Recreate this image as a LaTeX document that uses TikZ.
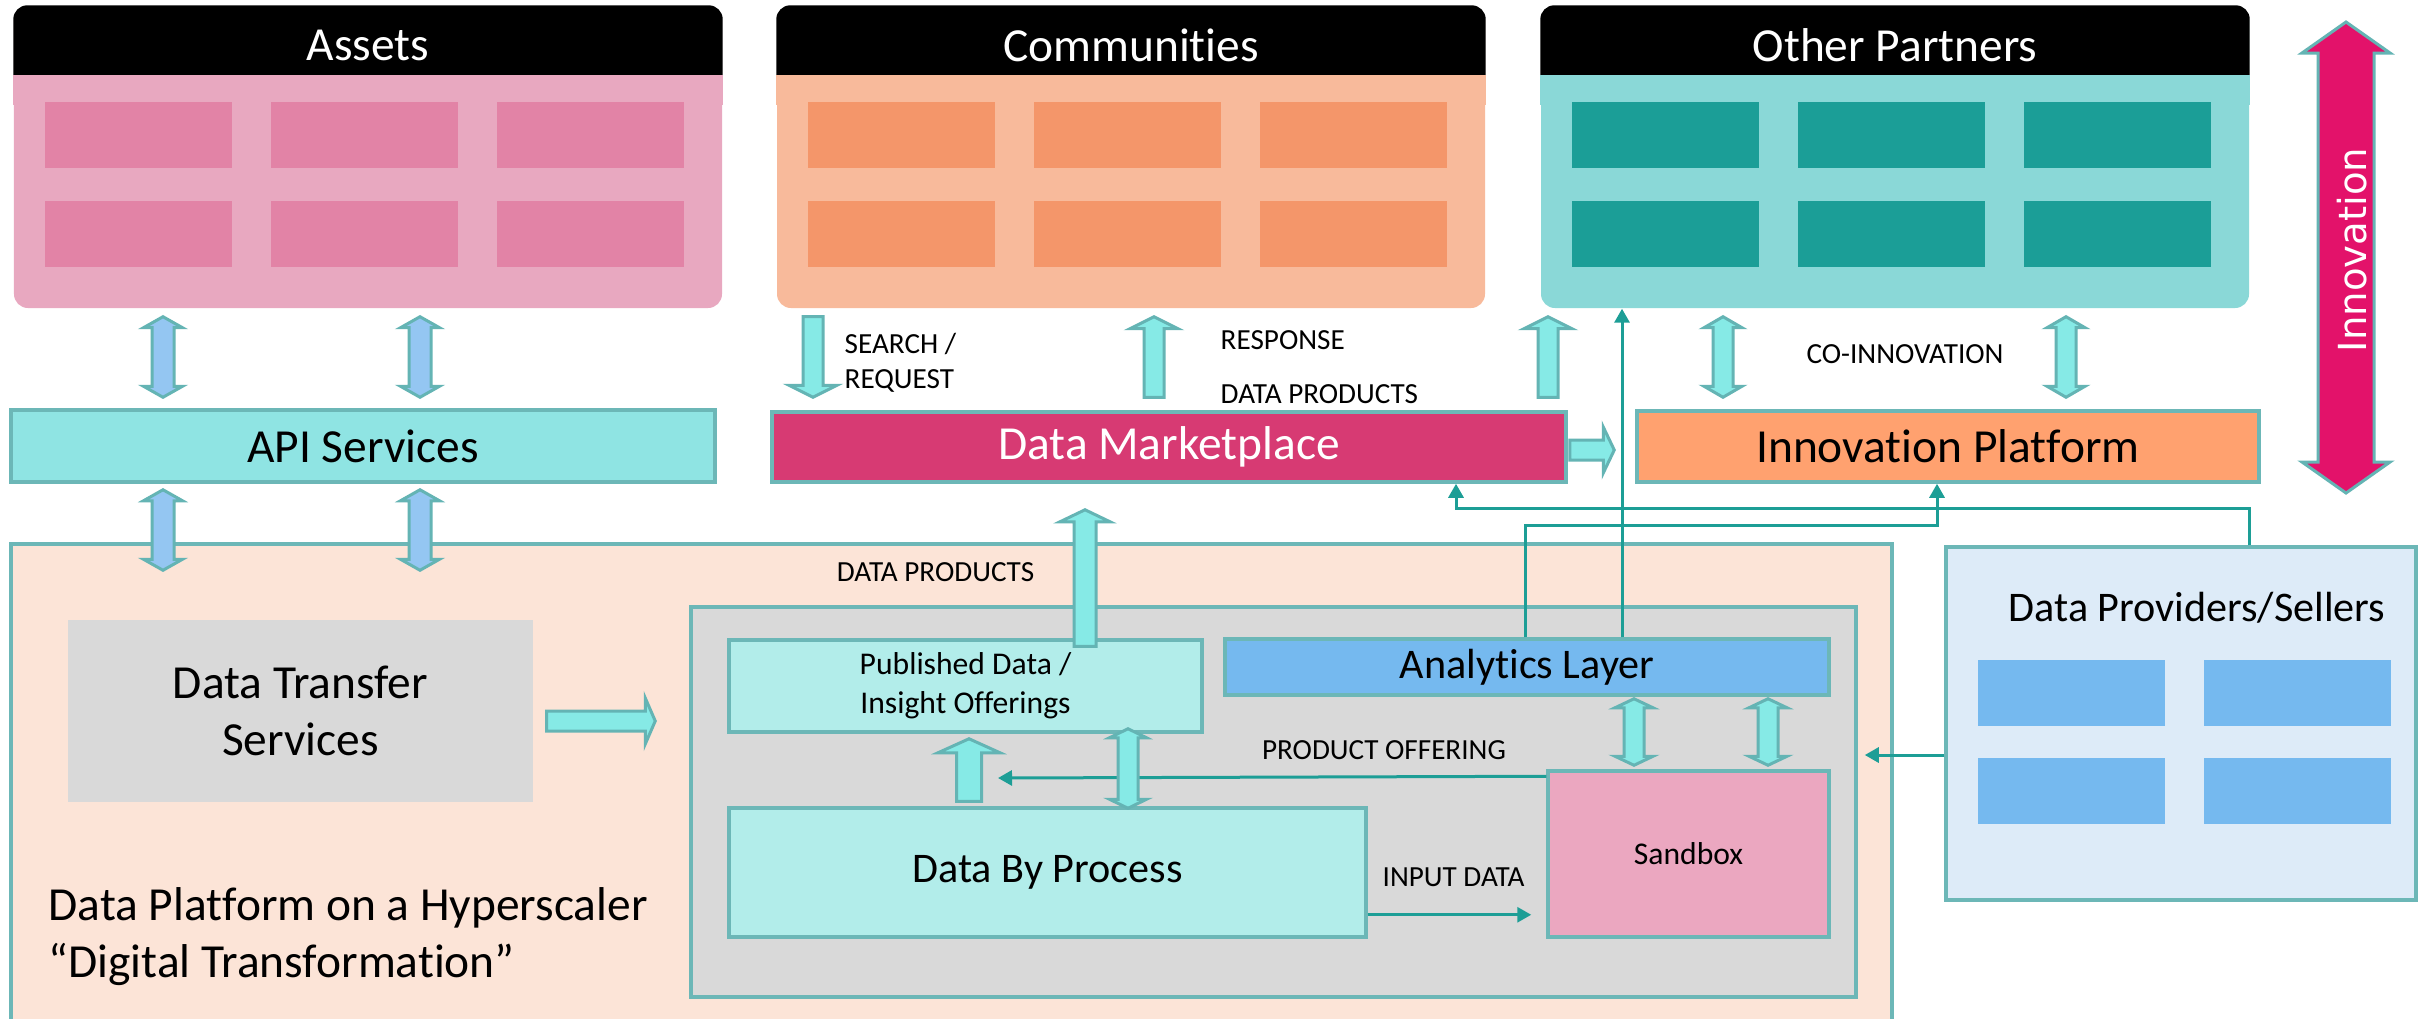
\documentclass[tikz,border=0pt]{standalone}
\usepackage{fontspec}
\setmainfont{Carlito}[Ligatures=NoCommon]
\newfontfamily\innofont{DejaVu Sans}
\usetikzlibrary{calc,arrows.meta}

\definecolor{assetbody}{HTML}{E8A8C0}
\definecolor{assetin}{HTML}{E283A6}
\definecolor{commbody}{HTML}{F8BA9B}
\definecolor{commin}{HTML}{F4966A}
\definecolor{partbody}{HTML}{8AD8D7}
\definecolor{partin}{HTML}{1B9E97}
\definecolor{apifill}{HTML}{8FE4E3}
\definecolor{dmfill}{HTML}{D73A73}
\definecolor{ipfill}{HTML}{FFA16F}
\definecolor{platfill}{HTML}{FCE4D7}
\definecolor{grayfill}{HTML}{D9D9D9}
\definecolor{pubfill}{HTML}{B2EDEA}
\definecolor{anfill}{HTML}{75B9EF}
\definecolor{sbfill}{HTML}{EBA7C0}
\definecolor{provfill}{HTML}{DDEBF8}
\definecolor{provin}{HTML}{75B9EF}
\definecolor{blkfill}{HTML}{86EAE6}
\definecolor{apiarrow}{HTML}{94C6F2}
\definecolor{blkline}{HTML}{64B4B4}
\definecolor{boxline}{HTML}{6CB7B7}
\definecolor{linkcol}{HTML}{1D9E96}
\definecolor{innofill}{HTML}{E3126A}

% block arrow: [style]{tail}{tip}{shaft half width}{head half width}{head length}
\newcommand{\blkarrow}[6][]{%
  \coordinate (bt) at (#2);
  \coordinate (bh) at (#3);
  \coordinate (bb) at ($(bh)!#6!(bt)$);
  \draw[blk,#1] ($(bt)!#4!90:(bh)$) -- ($(bb)!#4!90:(bh)$) -- ($(bb)!#5!90:(bh)$) -- (bh)
    -- ($(bb)!#5!-90:(bh)$) -- ($(bb)!#4!-90:(bh)$) -- ($(bt)!#4!-90:(bh)$) -- cycle;
}
% double block arrow, same arguments
\newcommand{\dblarrow}[6][]{%
  \coordinate (bt) at (#2);
  \coordinate (bh) at (#3);
  \coordinate (bb) at ($(bh)!#6!(bt)$);
  \coordinate (ba) at ($(bt)!#6!(bh)$);
  \draw[blk,#1] (bt) -- ($(ba)!#5!90:(bh)$) -- ($(ba)!#4!90:(bh)$) -- ($(bb)!#4!90:(bh)$)
    -- ($(bb)!#5!90:(bh)$) -- (bh) -- ($(bb)!#5!-90:(bh)$) -- ($(bb)!#4!-90:(bh)$)
    -- ($(ba)!#4!-90:(bh)$) -- ($(ba)!#5!-90:(bh)$) -- cycle;
}

\begin{document}
\begin{tikzpicture}[x=1cm,y=-1cm,
  box/.style={draw=boxline, line width=0.035cm, inner sep=0pt},
  topbox/.style={rounded corners=0.14cm, minimum width=7.08cm, minimum height=3.02cm, inner sep=0pt},
  headtxt/.style={text=white, font=\fontsize{13.5}{16.2}\selectfont, inner sep=0pt},
  bigtxt/.style={font=\fontsize{13.5}{16.2}\selectfont},
  midtxt/.style={font=\fontsize{12}{14.4}\selectfont},
  smalltxt/.style={font=\fontsize{9}{11.1}\selectfont},
  lbltxt/.style={font=\fontsize{8.3}{10}\selectfont, inner sep=0pt},
  blk/.style={draw=blkline, line width=0.03cm, fill=blkfill},
  link/.style={draw=linkcol, line width=0.03cm, -{Triangle[width=0.15cm,length=0.14cm]}}]
\useasboundingbox (0,0) rectangle (24.28,10.18);
\fill[white] (0,0) rectangle (24.28,10.18);

% top groups
\foreach \nm/\bx/\cbody/\cin/\ttl in {assets/3.68/assetbody/assetin/Assets,
    comm/11.31/commbody/commin/Communities, partners/18.95/partbody/partin/Other Partners} {
  \node[topbox, fill=\cbody] (\nm) at (\bx,1.57) {};
  \fill[black, rounded corners=0.14cm] (\nm.north west) rectangle ($(\nm.north east)+(0,0.9)$);
  \fill[\cbody] ($(\nm.north west)+(0,0.70)$) rectangle ($(\nm.north east)+(0,1.0)$);
  \node[headtxt] (\nm-t) at ($(\nm.north)+(0,0.40)$) {\ttl};
  \foreach \i in {0,1,2}
    \foreach \j in {0,1}
      \fill[\cin] ($(\nm.north west)+(0.32+2.26*\i,0.97+0.99*\j)$) rectangle ++(1.87,0.66);
}

% service row
\node[box, fill=apifill, minimum width=7.04cm, minimum height=0.72cm, bigtxt] (api) at (3.63,4.46) {API Services};
\node[box, fill=dmfill, text=white, minimum width=7.94cm, minimum height=0.70cm, bigtxt] (dm) at (11.69,4.47) {Data Marketplace};
\node[box, fill=ipfill, minimum width=6.22cm, minimum height=0.71cm, bigtxt] (ip) at (19.48,4.465) {Innovation Platform};

% platform
\node[box, fill=platfill, minimum width=18.81cm, minimum height=4.86cm] (plat) at (9.515,7.87) {};
\node[box, fill=grayfill, minimum width=11.65cm, minimum height=3.90cm] (core) at (12.735,8.02) {};
\node[fill=grayfill, minimum width=4.65cm, minimum height=1.82cm, bigtxt, align=center] (dts) at (3.005,7.11) {Data Transfer\\Services};
\node[box, fill=pubfill, minimum width=4.73cm, minimum height=0.92cm, smalltxt, align=center] (pub) at (9.655,6.86) {Published Data /\\Insight Offerings};
\node[box, fill=anfill, minimum width=6.04cm, minimum height=0.56cm, midtxt] (an) at (15.27,6.67) {Analytics Layer};
\node[box, fill=pubfill, minimum width=6.37cm, minimum height=1.29cm, midtxt] (dbp) at (10.475,8.725) {Data By Process};
\node[box, fill=sbfill, minimum width=2.81cm, minimum height=1.66cm, smalltxt] (sb) at (16.885,8.54) {Sandbox};
\node[bigtxt, align=left, anchor=west, inner sep=0pt] (plat-t) at (0.48,9.37) {Data Platform on a Hyperscaler\\“Digital Transformation”};

% providers
\node[box, fill=provfill, minimum width=4.70cm, minimum height=3.53cm] (prov) at (21.81,7.235) {};
\node[midtxt] (prov-t) at (21.97,6.08) {Data Providers/Sellers};
\foreach \i in {0,1}
  \foreach \j in {0,1}
    \fill[provin] ($(prov.north west)+(0.34+2.26*\i,1.15+0.98*\j)$) rectangle ++(1.87,0.66);

% labels
\node[lbltxt, anchor=west, align=left] (search) at (8.44,3.625) {SEARCH /\\REQUEST};
\node[lbltxt, anchor=west] (resp) at (12.20,3.40) {RESPONSE};
\node[lbltxt, anchor=west] (dprod) at (12.20,3.94) {DATA PRODUCTS};
\node[lbltxt] (coinno) at (19.05,3.545) {CO-INNOVATION};
\node[lbltxt] (dprod2) at (9.355,5.725) {DATA PRODUCTS};
\node[lbltxt] (offer-t) at (13.84,7.50) {PRODUCT OFFERING};
\node[lbltxt] (input-t) at (14.535,8.775) {INPUT DATA};

% thin links
\coordinate (offer) at (9.98,7.78);
\draw[link] ($(prov.north)+(0.68,0)$) -- ++(0,-0.37) -| ($(dm.south)+(2.87,0)$);
\draw[link] ($(an.north)+(-0.02,0)$) -- ++(0,-1.12) -| ($(ip.south)+(-0.11,0)$);
\draw[link] ($(an.north)+(0.95,0)$) -- ($(an.north |- partners.south)+(0.95,0)$);
\draw[link] ($(sb.north west)+(0,0.07)$) -- (offer);
\draw[link] ($(dbp.south east)+(0,-0.24)$) -- ($(dbp.south east -| sb.west)+(-0.15,-0.24)$);
\draw[link] ($(prov.west)+(0,0.315)$) -- ($(prov.west -| core.east)+(0.07,0.315)$);

% block arrows
\foreach \dx in {-2.05,0.52} {
  \dblarrow[fill=apiarrow]{$(assets.south)+(\dx,0.08)$}{$(assets.south |- api.north)+(\dx,-0.11)$}{0.11cm}{0.195cm}{0.11cm}
  \dblarrow[fill=apiarrow]{$(assets.south |- api.south)+(\dx,0.06)$}{$(assets.south |- plat.north)+(\dx,0.28)$}{0.11cm}{0.195cm}{0.11cm}
}
\blkarrow{$(comm.south)+(-3.18,0.08)$}{$(comm.south |- dm.north)+(-3.18,-0.13)$}{0.10cm}{0.24cm}{0.12cm}
\blkarrow{$(comm.south |- dm.north)+(0.23,-0.13)$}{$(comm.south)+(0.23,0.08)$}{0.10cm}{0.24cm}{0.12cm}
\blkarrow{$(partners.south |- dm.north)+(-3.47,-0.13)$}{$(partners.south)+(-3.47,0.08)$}{0.10cm}{0.24cm}{0.12cm}
\foreach \dx in {-1.72,1.71} {
  \dblarrow{$(partners.south)+(\dx,0.08)$}{$(partners.south |- ip.north)+(\dx,-0.12)$}{0.10cm}{0.19cm}{0.11cm}
}
\blkarrow{$(dm.east)+(0.02,0.03)$}{$(dm.east -| ip.west)+(-0.21,0.03)$}{0.10cm}{0.23cm}{0.11cm}
\blkarrow{$(pub.north)+(1.195,0.08)$}{$(dm.south)+(-0.84,0.26)$}{0.11cm}{0.25cm}{0.12cm}
\blkarrow{$(dts.east)+(0.13,0.10)$}{$(dts.east -| core.west)+(-0.34,0.10)$}{0.10cm}{0.23cm}{0.10cm}
\blkarrow{$(dbp.north)+(-0.785,-0.05)$}{$(dbp.north |- pub.south)+(-0.785,0.05)$}{0.125cm}{0.31cm}{0.14cm}
\dblarrow{$(dbp.north |- pub.south)+(0.805,-0.05)$}{$(dbp.north)+(0.805,0.02)$}{0.10cm}{0.185cm}{0.09cm}
\foreach \dx in {-0.545,0.795} {
  \dblarrow{$(sb.north |- an.south)+(\dx,0.02)$}{$(sb.north)+(\dx,-0.04)$}{0.10cm}{0.19cm}{0.09cm}
}

% innovation
\coordinate (inno-top) at (23.46,0.22);
\coordinate (inno-bot) at (23.46,4.93);
\dblarrow[fill=innofill]{inno-top}{inno-bot}{0.28cm}{0.44cm}{0.31cm}
\node[rotate=90, text=white, font=\innofont\fontsize{11}{13}\selectfont] (inno) at (23.52,2.50) {Innovation};
\end{tikzpicture}
\end{document}
